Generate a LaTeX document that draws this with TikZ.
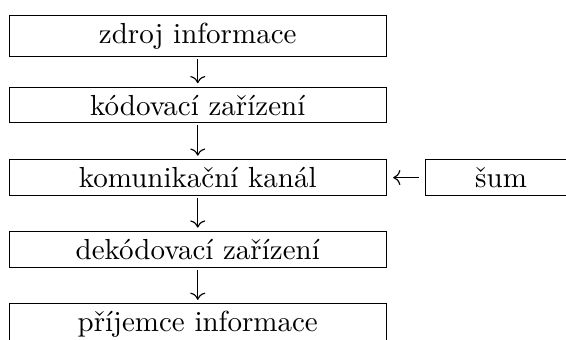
\documentclass[tikz,border=0pt]{standalone}
\usepackage{fontspec}
\usepackage{tikz}
\usetikzlibrary{arrows.meta, positioning}

\begin{document}
\begin{tikzpicture}[
    blok/.style={draw, minimum width=130pt, inner xsep=3pt, inner ysep=2.6pt},
    sipka/.style={-{Computer Modern Rightarrow}, shorten <=0.6pt, shorten >=1.2pt},
    bocni/.style={-{Computer Modern Rightarrow}, shorten <=2.2pt, shorten >=2.2pt},
    node distance=13.2pt
]
    \useasboundingbox (0,0) rectangle (195.2pt,-117.2pt);

    \node[blok, anchor=north] (zdroj)   at (68.2pt,-5.1pt)   {zdroj informace};
    \node[blok, anchor=north] (koder)   at (68.2pt,-29.9pt)  {kódovací zařízení};
    \node[blok, anchor=north] (kanal)   at (68.2pt,-54.9pt)  {komunikační kanál};
    \node[blok, anchor=north] (dekoder) at (68.2pt,-79.7pt)  {dekódovací zařízení};
    \node[blok, anchor=north] (prijem)  at (68.2pt,-104.6pt) {příjemce informace};
    \node[blok, minimum width=52pt, right=of kanal] (sum) {šum};

    \draw[sipka] (zdroj) -- (koder);
    \draw[sipka] (koder) -- (kanal);
    \draw[sipka] (kanal) -- (dekoder);
    \draw[sipka] (dekoder) -- (prijem);
    \draw[bocni] (sum) -- (kanal);
\end{tikzpicture}
\end{document}
